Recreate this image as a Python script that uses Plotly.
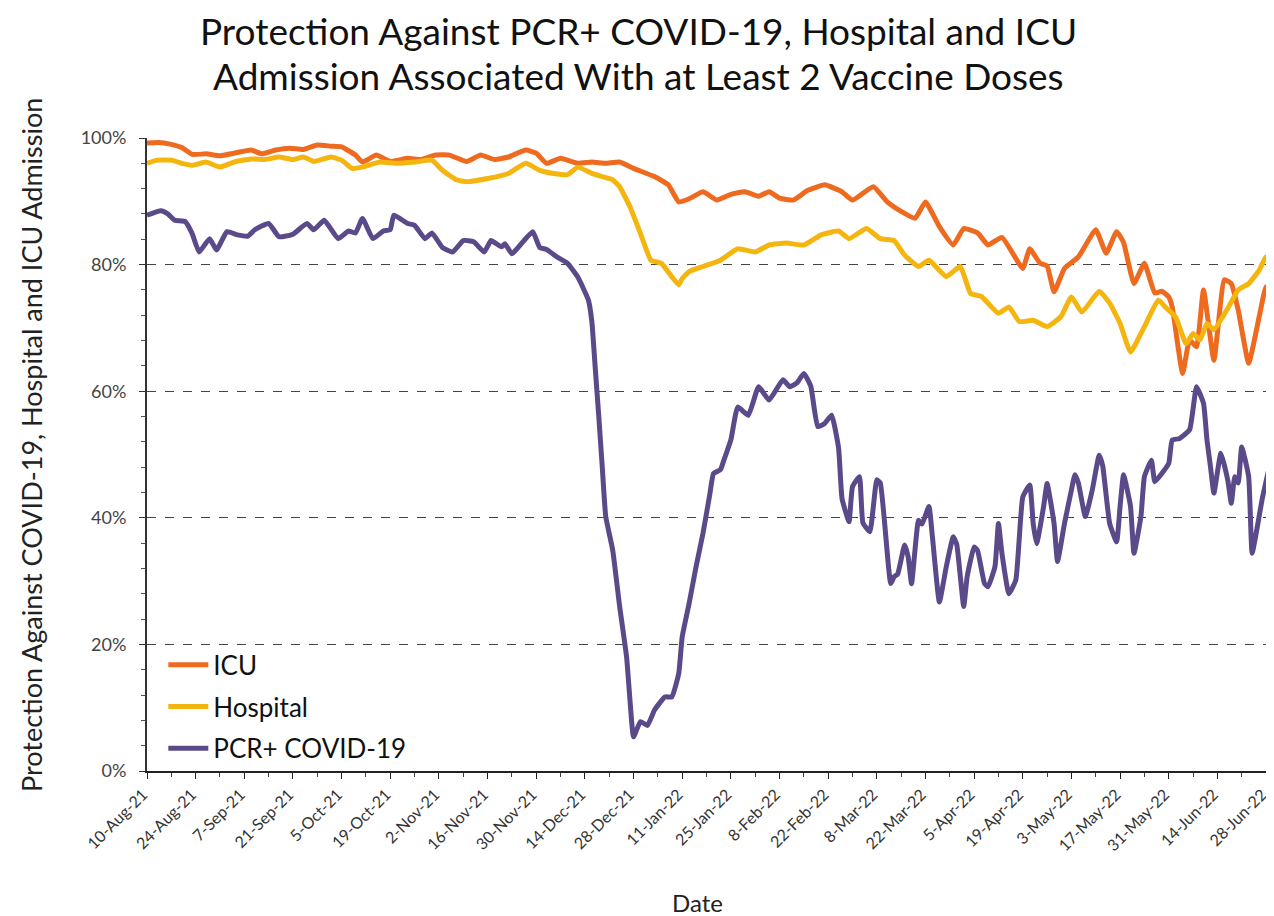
import pandas as pd
import plotly.graph_objects as go

START = "2021-08-10"

# Days since 10-Aug-21 and protection (%)
icu_days = [0, 3, 7, 10, 13, 17, 21, 25, 30, 33, 37, 41, 45, 49, 53, 56, 60, 62, 66, 70,
            75, 79, 83, 87, 92, 96, 100, 104, 109, 112, 115, 119, 124, 128, 132, 136, 140,
            146, 150, 153, 156, 160, 164, 168, 172, 176, 179, 182, 186, 190, 195, 198, 200,
            203, 209, 213, 217, 221, 224, 228, 232, 235, 239, 242, 246, 252, 254, 257, 259,
            261, 264, 268, 273, 276, 279, 281, 284, 287, 290, 292, 294, 295, 298, 300, 302,
            304, 307, 310, 312, 314, 317, 320, 322, 324]
icu_vals = [99.2, 99.3, 99.0, 98.5, 97.4, 97.5, 97.2, 97.6, 98.1, 97.5, 98.1, 98.4, 98.2,
            98.9, 98.7, 98.6, 97.3, 96.2, 97.3, 96.3, 96.8, 96.6, 97.3, 97.3, 96.3, 97.3,
            96.6, 97.0, 98.1, 97.6, 96.0, 96.8, 96.0, 96.2, 96.0, 96.2, 95.2, 93.9, 92.6,
            89.9, 90.4, 91.5, 90.2, 91.1, 91.5, 90.8, 91.5, 90.5, 90.2, 91.7, 92.6, 92.0,
            91.5, 90.2, 92.3, 89.9, 88.4, 87.3, 89.9, 86.0, 83.1, 85.7, 85.0, 83.1, 84.3,
            79.4, 82.5, 80.2, 79.8, 75.7, 79.4, 81.2, 85.5, 81.8, 85.2, 83.5, 77.0, 80.2,
            75.5, 75.8, 74.9, 73.3, 62.8, 68.1, 67.0, 76.0, 64.9, 77.6, 77.0, 72.8, 64.4,
            71.7, 76.5, 74.4]

hosp_days = [0, 3, 7, 10, 13, 17, 21, 25, 30, 34, 38, 42, 45, 48, 53, 56, 59, 62, 67, 72,
             77, 82, 85, 89, 92, 98, 104, 109, 113, 117, 121, 124, 128, 131, 134, 136, 139,
             142, 145, 148, 151, 153, 154, 156, 160, 165, 170, 175, 179, 184, 189, 194, 199,
             202, 207, 211, 215, 218, 222, 225, 230, 234, 237, 240, 245, 248, 251, 255, 259,
             263, 266, 269, 274, 277, 280, 283, 287, 291, 293, 296, 299, 301, 303, 305, 307,
             311, 314, 317, 320, 322, 324]
hosp_vals = [96.0, 96.5, 96.5, 96.0, 95.7, 96.2, 95.4, 96.2, 96.7, 96.6, 97.0, 96.6, 97.0,
             96.3, 97.0, 96.5, 95.2, 95.4, 96.2, 96.0, 96.2, 96.5, 94.9, 93.4, 93.1, 93.6,
             94.4, 96.0, 94.9, 94.4, 94.2, 95.4, 94.4, 93.9, 93.4, 92.3, 89.1, 84.9, 80.7,
             80.2, 78.1, 76.8, 77.8, 78.9, 79.7, 80.7, 82.5, 82.0, 83.1, 83.4, 83.1, 84.7,
             85.3, 84.1, 85.7, 84.1, 83.8, 81.5, 79.7, 80.7, 78.1, 79.7, 75.4, 75.0, 72.3,
             73.3, 71.0, 71.2, 70.2, 71.8, 74.9, 72.5, 75.8, 73.9, 70.7, 66.2, 70.2, 74.4,
             73.3, 71.7, 67.5, 69.1, 68.1, 70.7, 69.7, 73.1, 76.0, 77.0, 79.1, 81.2, 81.5]

pcr_days = [0, 4, 6, 8, 11, 13, 15, 18, 20, 23, 26, 29, 31, 35, 38, 42, 46, 48, 51, 55,
            58, 60, 62, 65, 68, 70, 71, 75, 77, 80, 82, 85, 88, 91, 94, 97, 99, 102, 103,
            105, 108, 111, 113, 115, 118, 121, 124, 127, 128, 129, 130, 131, 132, 134, 136,
            138, 139, 140, 142, 144, 146, 149, 151, 153, 154, 156, 158, 160, 162, 163, 165,
            166, 168, 170, 173, 176, 179, 183, 185, 187, 189, 191, 193, 195, 197, 199, 200,
            202, 203, 205, 206, 208, 210, 211, 214, 215, 216, 218, 219, 220, 222, 223, 225,
            226, 228, 230, 232, 233, 235, 236, 238, 239, 241, 242, 244, 245, 246, 248, 250,
            252, 254, 255, 256, 258, 259, 261, 262, 264, 266, 267, 268, 270, 272, 274, 275,
            277, 279, 280, 281, 283, 284, 286, 287, 289, 290, 292, 294, 295, 297, 300, 302,
            304, 305, 306, 307, 309, 311, 312, 313, 314, 315, 317, 318, 320, 321, 323, 324]
pcr_vals = [87.8, 88.5, 88.0, 87.0, 86.8, 84.9, 82.0, 84.1, 82.3, 85.2, 84.7, 84.5, 85.5,
            86.5, 84.4, 84.8, 86.5, 85.5, 87.0, 84.1, 85.3, 85.0, 87.3, 84.1, 85.3, 85.5,
            87.8, 86.5, 86.2, 84.1, 85.0, 82.7, 82.0, 83.8, 83.6, 82.0, 83.8, 82.8, 83.3,
            81.7, 83.5, 85.2, 82.7, 82.4, 81.2, 80.2, 78.0, 74.4, 71.0, 63.5, 56.0, 48.0,
            40.2, 34.9, 26.0, 18.0, 11.0, 5.4, 7.8, 7.2, 9.6, 11.7, 11.7, 15.4, 21.2, 26.5,
            32.3, 37.6, 43.9, 47.0, 47.6, 49.1, 52.3, 57.5, 56.2, 60.7, 58.6, 61.8, 60.7,
            61.3, 62.8, 60.8, 54.4, 54.9, 56.2, 51.0, 43.0, 39.4, 44.9, 46.5, 39.2, 37.8,
            46.0, 45.5, 29.6, 30.7, 31.1, 35.7, 33.9, 29.6, 39.6, 39.0, 41.8, 37.0, 26.7,
            32.3, 37.0, 35.8, 26.0, 30.7, 35.4, 34.8, 29.6, 29.1, 32.3, 39.1, 34.4, 28.0,
            30.2, 43.3, 45.2, 39.1, 35.9, 41.8, 45.4, 39.1, 33.1, 39.1, 44.4, 46.8, 45.5,
            40.2, 44.4, 49.9, 48.2, 39.1, 36.2, 41.8, 46.8, 41.8, 34.4, 40.2, 46.5, 49.1,
            45.7, 47.0, 48.6, 52.3, 52.5, 53.9, 60.7, 58.1, 52.3, 48.1, 43.9, 50.2, 45.9,
            42.3, 46.5, 45.5, 51.2, 46.5, 34.4, 40.2, 43.3, 48.1, 50.0]

series_names = ["ICU", "Hospital", "PCR+ COVID-19"]
series_colors = ["#EE6A1F", "#F5B50F", "#5B4A8A"]

TITLE_LINES = ["Protection Against PCR+ COVID-19, Hospital and ICU",
               "Admission Associated With at Least 2 Vaccine Doses"]
Y_TITLE = "Protection Against COVID-19, Hospital and ICU Admission"
X_TITLE = "Date"

start = pd.Timestamp(START)


def to_dates(days):
    return [start + pd.Timedelta(days=d) for d in days]


fig = go.Figure()
for name, color, days, vals in zip(
        series_names, series_colors,
        [icu_days, hosp_days, pcr_days], [icu_vals, hosp_vals, pcr_vals]):
    fig.add_trace(go.Scatter(
        x=to_dates(days), y=vals, name=name, mode="lines",
        line=dict(color=color, width=5, shape="spline", smoothing=0.4),
        legendgroup=name,
    ))

DAY_MS = 86400000
FONT = "Lato, 'Open Sans', sans-serif"
# The page body has an 8px margin, so the figure is sized to sit inside the window.
fig.update_layout(
    width=1266, height=908,
    paper_bgcolor="white", plot_bgcolor="white",
    margin=dict(l=139, r=1, t=130, b=145, autoexpand=False),
    font=dict(family=FONT, color="#222"),
    showlegend=True,
    legend=dict(
        x=0.0145, y=0.205, xanchor="left", yanchor="top",
        bgcolor="rgba(0,0,0,0)", font=dict(size=26, color="#111"),
        tracegroupgap=5, itemwidth=40,
    ),
    xaxis=dict(
        type="date", automargin=False,
        range=[start, start + pd.Timedelta(days=324)],
        tick0=START, dtick=14 * DAY_MS, tickformat="%-d-%b-%y",
        tickangle=-45, tickfont=dict(size=16, color="#333"),
        ticklabelshift=-4,
        showline=True, linecolor="#222", linewidth=2,
        ticks="outside", ticklen=6, tickcolor="#222",
        minor=dict(dtick=7 * DAY_MS, tick0=START, ticks="outside", ticklen=4,
                   tickcolor="#444", showgrid=False),
        showgrid=False, zeroline=False,
    ),
    yaxis=dict(
        automargin=False,
        range=[0, 100], tickvals=[0, 20, 40, 60, 80, 100],
        ticktext=["0%", "20%", "40%", "60%", "80%", "100%"],
        tickfont=dict(size=18, color="#444"),
        ticklabelstandoff=9,
        showline=True, linecolor="#333", linewidth=2,
        ticks="outside", ticklen=6, tickcolor="#333",
        minor=dict(dtick=4, ticks="outside", ticklen=4, tickcolor="#555", showgrid=False),
        showgrid=True, gridcolor="#444", griddash="dash", gridwidth=1,
        zeroline=False,
    ),
    annotations=[
        dict(text=TITLE_LINES[0], xref="paper", yref="paper", x=0.4366, y=1.1706,
             xanchor="center", yanchor="middle", showarrow=False,
             font=dict(size=37, color="#111", family=FONT)),
        dict(text=TITLE_LINES[1], xref="paper", yref="paper", x=0.4366, y=1.0995,
             xanchor="center", yanchor="middle", showarrow=False,
             font=dict(size=37, color="#111", family=FONT)),
        dict(text=Y_TITLE, xref="paper", yref="paper", x=-0.103, y=0.515,
             xanchor="center", yanchor="middle", textangle=-90, showarrow=False,
             font=dict(size=27, color="#222", family=FONT)),
        dict(text=X_TITLE, xref="paper", yref="paper", x=0.489, y=-0.2085,
             xanchor="center", yanchor="middle", showarrow=False,
             font=dict(size=24, color="#222", family=FONT)),
    ],
)

fig.write_html("out.html")
